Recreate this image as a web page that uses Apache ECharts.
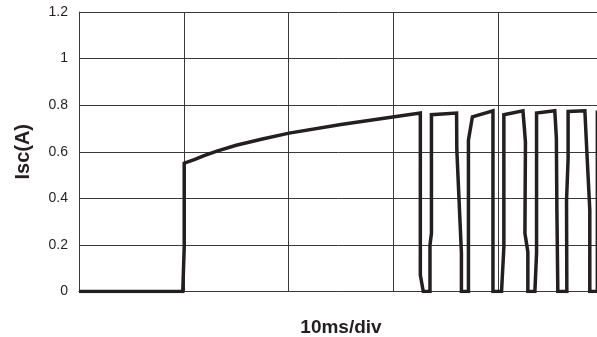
<!DOCTYPE html>
<html>
<head>
<meta charset="utf-8">
<script src="https://cdn.jsdelivr.net/npm/echarts@6/dist/echarts.min.js"></script>
<style>html,body{margin:0;padding:0;background:#fff}#c{width:597px;height:337px}</style>
</head>
<body>
<div id="c"></div>
<script>
// time in ms (10 ms per division), current in A
const timeMs = [0, 9.90, 10.04, 10.04, 11.0, 12.0, 13.16, 15.0, 17.5, 20.05, 25.0, 29.93, 32.57,
  32.57, 32.57, 32.85, 33.49, 33.49, 33.63, 33.63, 36.03,
  36.05, 36.49, 36.49, 37.16, 37.16, 37.54, 39.50,
  39.50, 40.32, 40.54, 40.54, 42.36,
  42.50, 42.60, 42.55, 42.83, 42.83, 43.50, 43.66, 43.66, 45.40,
  45.55, 45.60, 45.69, 46.55, 46.52, 46.67, 46.67, 48.27,
  48.46, 48.74, 48.74, 49.46, 49.46, 50.0];
const currentA = [0, 0, 0.19, 0.551, 0.566, 0.584, 0.603, 0.628, 0.655, 0.680, 0.717, 0.749, 0.766,
  0.766, 0.071, 0, 0, 0.20, 0.25, 0.759, 0.766,
  0.61, 0.165, 0, 0, 0.65, 0.75, 0.776,
  0, 0, 0.19, 0.759, 0.776,
  0.70, 0.64, 0.25, 0.17, 0, 0, 0.165, 0.766, 0.776,
  0.66, 0.35, 0, 0, 0.39, 0.57, 0.773, 0.776,
  0.60, 0.35, 0, 0, 0.77, 0.77];
const yTicks = [0, 0.2, 0.4, 0.6, 0.8, 1, 1.2];
const xLabel = '10ms/div';
const yLabel = 'Isc(A)';

const data = timeMs.map((t, i) => [t, currentA[i]]);
const chart = echarts.init(document.getElementById('c'), null, {renderer: 'canvas'});
chart.setOption({
  animation: false,
  grid: {left: 79, top: 12, width: 524, height: 279.5, containLabel: false, outerBoundsMode: 'none'},
  xAxis: {
    type: 'value', min: 0, max: 50, interval: 10,
    name: xLabel, nameLocation: 'middle', nameGap: 27,
    nameTextStyle: {fontFamily: 'Liberation Sans', fontWeight: 'bold', fontSize: 19, color: '#231f20'},
    axisLine: {show: true, onZero: false, lineStyle: {color: '#3a3a3a', width: 1}},
    axisTick: {show: false}, axisLabel: {show: false},
    splitLine: {show: true, lineStyle: {color: '#3a3a3a', width: 1}}
  },
  yAxis: {
    type: 'value', min: 0, max: 1.2, interval: 0.2,
    name: yLabel, nameLocation: 'middle', nameGap: 46,
    nameTextStyle: {fontFamily: 'Liberation Sans', fontWeight: 'bold', fontSize: 20, color: '#231f20'},
    axisLine: {show: true, lineStyle: {color: '#3a3a3a', width: 1}},
    axisTick: {show: false},
    axisLabel: {margin: 11, fontFamily: 'Liberation Sans', fontSize: 14, color: '#231f20',
      formatter: v => { const m = yTicks.find(t => Math.abs(t - v) < 1e-9); return m === undefined ? '' : String(m); }},
    splitLine: {show: true, lineStyle: {color: '#3a3a3a', width: 1}}
  },
  series: [{
    type: 'line', data: data, symbol: 'none', clip: true,
    lineStyle: {color: '#231f20', width: 3.5, join: 'miter'}
  }]
});
</script>
</body>
</html>
